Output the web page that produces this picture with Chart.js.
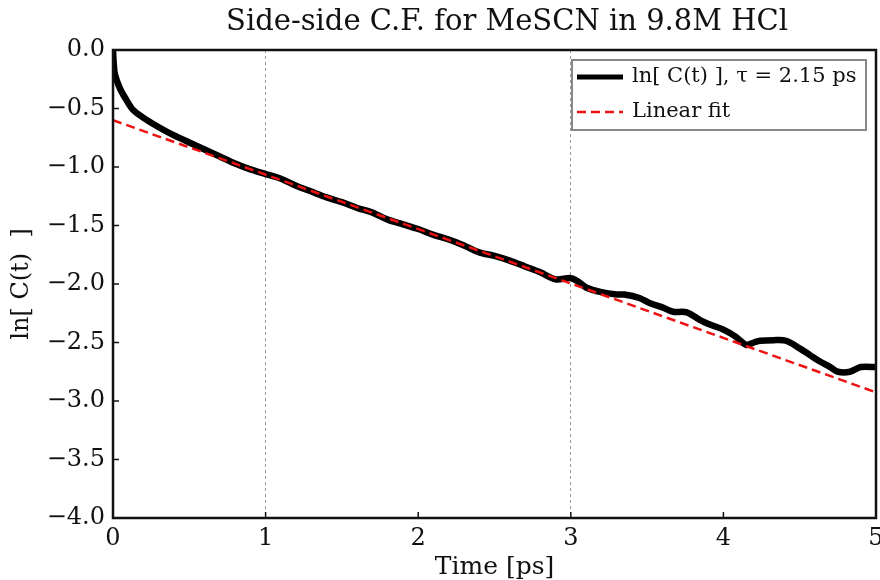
<!DOCTYPE html>
<html>
<head>
<meta charset="utf-8">
<script src="https://cdn.jsdelivr.net/npm/chart.js@4.4.0/dist/chart.umd.min.js"></script>
<style>
  html, body { margin: 0; padding: 0; background: #fff; }
  #wrap { width: 880px; height: 580px; }
</style>
</head>
<body>
<div id="wrap"><canvas id="cf-chart" width="880" height="580"></canvas></div>
<script>
// ln C(t)
const timePs = [0, 0.005, 0.013, 0.046, 0.08, 0.13, 0.2, 0.3, 0.4, 0.5, 0.6, 0.7, 0.8, 0.9,
  1.0, 1.1, 1.2, 1.3, 1.4, 1.5, 1.6, 1.7, 1.8, 1.9, 2.0, 2.1, 2.2, 2.3, 2.4, 2.5, 2.6, 2.7,
  2.8, 2.9, 3.0, 3.05, 3.1, 3.2, 3.3, 3.35, 3.45, 3.52, 3.6, 3.67, 3.76, 3.85, 3.92, 4.0,
  4.08, 4.15, 4.2, 4.24, 4.33, 4.41, 4.5, 4.57, 4.63, 4.7, 4.75, 4.83, 4.9, 5.0];
const lnC = [0.0, -0.12, -0.21, -0.33, -0.41, -0.51, -0.58, -0.66, -0.73, -0.79, -0.85, -0.91, -0.97, -1.02,
  -1.06, -1.10, -1.16, -1.21, -1.26, -1.30, -1.35, -1.39, -1.45, -1.49, -1.53, -1.58, -1.62, -1.67, -1.73, -1.76, -1.80, -1.85,
  -1.90, -1.96, -1.95, -1.98, -2.03, -2.07, -2.09, -2.09, -2.12, -2.165, -2.20, -2.237, -2.242, -2.31, -2.35, -2.39,
  -2.45, -2.52, -2.50, -2.485, -2.48, -2.485, -2.55, -2.61, -2.66, -2.71, -2.75, -2.75, -2.71, -2.71];

// linear fit end points
const fitTime = [0, 5];
const fitVals = [-0.60, -2.926];

const xTicks = [0, 1, 2, 3, 4, 5];
const gridAt = [1, 3];
const seriesLabels = ['ln[ C(t) ], \u03c4 = 2.15 ps', 'Linear fit'];
const chartTitle = 'Side-side C.F. for MeSCN in 9.8M HCl';

const serif = "'DejaVu Serif', 'Liberation Serif', serif";

// title, frame, inward ticks and the in-plot legend
const framePlugin = {
  id: 'frame',
  afterDraw(chart) {
    const ctx = chart.ctx;
    const a = chart.chartArea;
    const xs = chart.scales.x, ys = chart.scales.y;
    ctx.save();

    ctx.fillStyle = '#111';
    ctx.font = '29px ' + serif;
    ctx.textAlign = 'center';
    ctx.textBaseline = 'middle';
    ctx.fillText(chartTitle, 507, 22);
    ctx.textAlign = 'left';

    ctx.strokeStyle = '#111';
    ctx.lineWidth = 1.5;
    ys.ticks.forEach(t => {
      const py = ys.getPixelForValue(t.value);
      ctx.beginPath(); ctx.moveTo(a.left, py); ctx.lineTo(a.left + 6, py); ctx.stroke();
    });
    xs.ticks.forEach(t => {
      const px = xs.getPixelForValue(t.value);
      ctx.beginPath(); ctx.moveTo(px, a.bottom); ctx.lineTo(px, a.bottom - 6); ctx.stroke();
    });
    ctx.lineWidth = 2.5;
    ctx.strokeRect(a.left, a.top, a.right - a.left, a.bottom - a.top);

    // legend
    const lx = 572, ly = 60, lw = 294, lh = 70;
    ctx.fillStyle = '#fff';
    ctx.fillRect(lx, ly, lw, lh);
    ctx.strokeStyle = '#888';
    ctx.lineWidth = 2;
    ctx.strokeRect(lx, ly, lw, lh);
    ctx.font = '21px ' + serif;
    chart.data.datasets.forEach((ds, i) => {
      const rowY = ly + 17 + i * 35;
      ctx.strokeStyle = ds.borderColor;
      ctx.lineWidth = i === 0 ? 5 : ds.borderWidth;
      ctx.setLineDash(ds.borderDash || []);
      ctx.beginPath(); ctx.moveTo(lx + 5, rowY); ctx.lineTo(lx + 51, rowY); ctx.stroke();
      ctx.setLineDash([]);
      ctx.fillStyle = '#111';
      ctx.fillText(ds.label, lx + 60, rowY);
    });
    ctx.restore();
  }
};

const ctx = document.getElementById('cf-chart').getContext('2d');
new Chart(ctx, {
  type: 'line',
  data: {
    datasets: [{
      label: seriesLabels[0],
      data: timePs.map((t, i) => ({ x: t, y: lnC[i] })),
      borderColor: '#000',
      borderWidth: 6.5,
      pointRadius: 0,
      tension: 0.3,
      order: 2
    }, {
      label: seriesLabels[1],
      data: fitTime.map((t, i) => ({ x: t, y: fitVals[i] })),
      borderColor: '#ee1111',
      borderWidth: 2.5,
      borderDash: [9, 5],
      pointRadius: 0,
      order: 1
    }]
  },
  options: {
    responsive: false,
    animation: false,
    layout: { padding: { left: 0, right: 4, top: 50, bottom: 0 } },
    plugins: {
      legend: { display: false },
      tooltip: { enabled: false },
      title: { display: false }
    },
    scales: {
      x: {
        type: 'linear',
        min: 0, max: 5,
        afterBuildTicks: s => { s.ticks = xTicks.map(v => ({ value: v })); },
        afterFit: s => { s.height = 62; s.paddingLeft = 0; s.paddingRight = 0; },
        ticks: { color: '#111', font: { family: serif, size: 24 }, padding: 6 },
        grid: {
          drawTicks: false,
          lineWidth: 1,
          color: c => gridAt.includes(c.tick && c.tick.value) ? '#999' : 'transparent'
        },
        border: { display: false, dash: [3, 3] },
        title: {
          display: true, text: 'Time [ps]', color: '#111',
          font: { family: serif, size: 25 }, padding: { top: 0, bottom: -2 }
        }
      },
      y: {
        min: -4, max: 0,
        afterFit: s => { s.width = 113; s.paddingTop = 0; s.paddingBottom = 0; },
        ticks: {
          stepSize: 0.5, color: '#111', font: { family: serif, size: 24 }, padding: 8,
          callback: v => v.toFixed(1).replace('-', '\u2212')
        },
        grid: { display: false, drawTicks: false },
        border: { display: false },
        title: {
          display: true, text: 'ln[ C(t)  ]', color: '#111',
          font: { family: serif, size: 24 }, padding: { top: 7, bottom: 0 }
        }
      }
    }
  },
  plugins: [framePlugin]
});
</script>
</body>
</html>
